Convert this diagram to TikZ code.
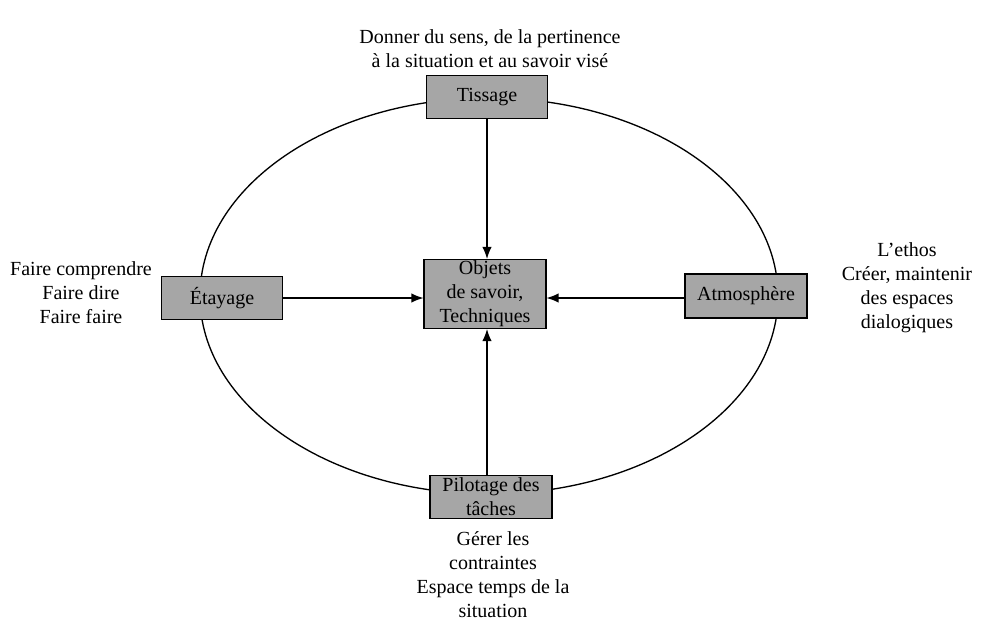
\documentclass[tikz,border=0pt]{standalone}
\usepackage{fontspec}
\setmainfont{Liberation Serif}
\usetikzlibrary{arrows.meta}
\begin{document}
\begin{tikzpicture}[x=0.75pt,y=-0.75pt,
  every node/.style={font=\fontsize{15}{18}\selectfont},
  gbox/.style={draw=black,line width=0.8pt,fill=black!35,align=center,inner sep=0pt},
  lbl/.style={align=center,inner sep=0pt},
  arr/.style={line width=0.9pt,-{Latex[length=9pt,width=7pt]}}]
\useasboundingbox (0,0) rectangle (992,621);
\fill[white] (0,0) rectangle (992,621);
\draw[line width=1pt] (489,296) ellipse [x radius=289, y radius=198];
\node[gbox,minimum width=121*0.75pt,minimum height=43*0.75pt] (tis) at (487,97) {Tissage};
\node[gbox,minimum width=121*0.75pt,minimum height=43*0.75pt] (eta) at (222,298) {Étayage};
\node[gbox,minimum width=122*0.75pt,minimum height=69*0.75pt] (obj) at (485,294) {Objets\\de savoir,\\Techniques};
\node[gbox,minimum width=122*0.75pt,minimum height=44*0.75pt] (atm) at (746,296) {Atmosphère};
\node[gbox,minimum width=122*0.75pt,minimum height=43*0.75pt] (pil) at (491,497) {Pilotage des\\tâches};
\coordinate (vx) at (487,0);
\coordinate (hy) at (0,298);
\draw[arr] (tis.south -| vx) -- (obj.north -| vx);
\draw[arr] (eta.east |- hy) -- (obj.west |- hy);
\draw[arr] (atm.west |- hy) -- (obj.east |- hy);
\draw[arr] (pil.north -| vx) -- (obj.south -| vx);
\node[lbl] (top) at (490,49) {Donner du sens, de la pertinence\\à la situation et au savoir visé};
\node[lbl] (left) at (81,293) {Faire comprendre\\Faire dire\\Faire faire};
\node[lbl] (right) at (907,288) {L’ethos\\Créer, maintenir\\des espaces\\dialogiques};
\node[lbl] (bot) at (493,575) {Gérer les\\contraintes\\Espace temps de la\\situation};
\end{tikzpicture}
\end{document}
